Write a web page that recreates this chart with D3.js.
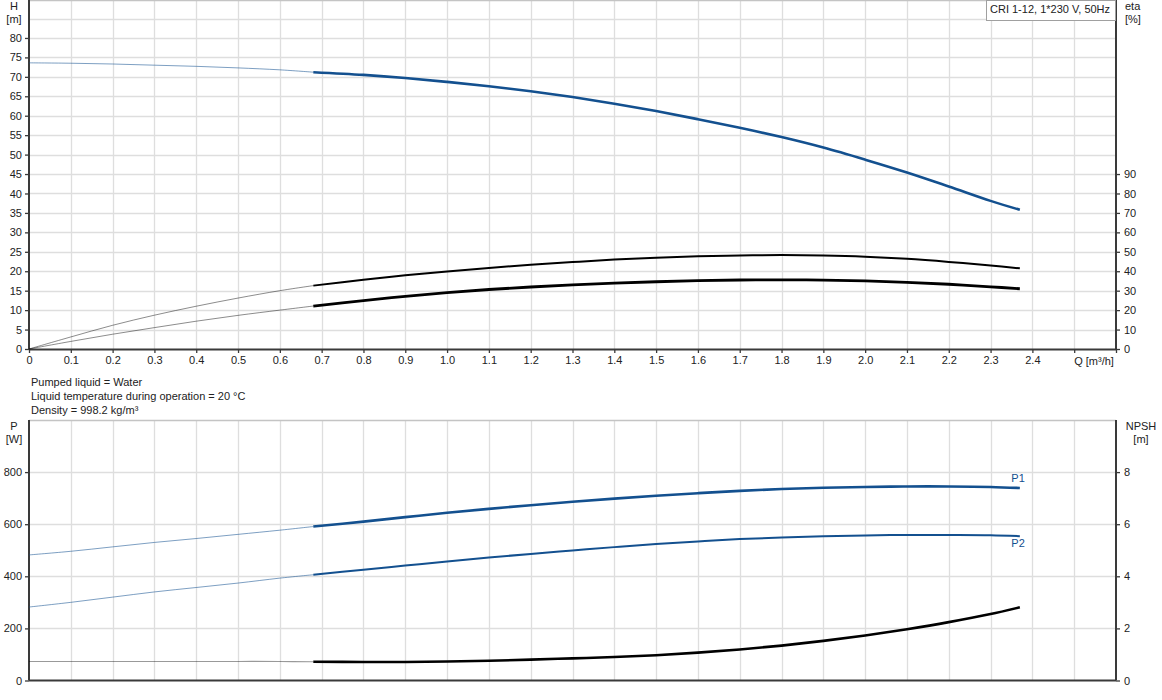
<!DOCTYPE html>
<html>
<head>
<meta charset="utf-8">
<script src="https://cdn.jsdelivr.net/npm/d3@7"></script>
<style>
  body { margin: 0; background: #fff; }
  text { font-family: "Liberation Sans", Arial, sans-serif; font-size: 11px; fill: #222; }
</style>
</head>
<body>
<svg id="chart" width="1162" height="700"></svg>
<script>
// flow points, thin (extrapolated) part and thick (operating) part
var qThin = [0, 0.1, 0.2, 0.3, 0.4, 0.5, 0.6, 0.68];
var qThick = [0.68, 0.8, 0.9, 1.0, 1.1, 1.2, 1.3, 1.4, 1.5, 1.6, 1.7, 1.8, 1.9, 2.0, 2.1, 2.2, 2.3, 2.37];

// head H [m]
var headThin = [73.6, 73.5, 73.3, 73.0, 72.7, 72.3, 71.8, 71.2];
var headThick = [71.2, 70.5, 69.7, 68.7, 67.6, 66.3, 64.8, 63.1, 61.2, 59.1, 56.9, 54.5, 51.8, 48.7, 45.4, 41.8, 38.1, 35.8];

// efficiencies eta [%]
var etaUpperThin = [0, 6.2, 12.2, 17.4, 22.0, 26.2, 30.0, 32.6];
var etaUpperThick = [32.6, 35.6, 37.9, 39.9, 41.7, 43.3, 44.7, 46.0, 47.0, 47.7, 48.1, 48.3, 48.1, 47.5, 46.4, 44.8, 42.9, 41.5];
var etaLowerThin = [0, 3.9, 7.6, 11.0, 14.3, 17.3, 20.0, 22.1];
var etaLowerThick = [22.1, 24.9, 27.1, 29.0, 30.6, 31.9, 33.0, 33.9, 34.6, 35.2, 35.5, 35.6, 35.4, 35.0, 34.3, 33.3, 32.0, 31.0];

// power P1 / P2 [W]
var p1Thin = [482, 496, 513, 530, 545, 561, 577, 591];
var p1Thick = [591, 610, 627, 644, 659, 673, 686, 698, 709, 719, 728, 735, 740, 743, 745, 745, 743, 739];
var p2Thin = [282, 300, 320, 340, 357, 374, 393, 406];
var p2Thick = [406, 425, 441, 457, 472, 486, 499, 512, 524, 534, 543, 549, 554, 557, 559, 559, 558, 554];

// NPSH [m]
var npshThin = [0.73, 0.73, 0.73, 0.73, 0.73, 0.73, 0.73, 0.72];
var npshThick = [0.72, 0.71, 0.71, 0.73, 0.76, 0.80, 0.85, 0.90, 0.97, 1.07, 1.19, 1.34, 1.52, 1.73, 1.97, 2.24, 2.55, 2.81];

// ticks
var qTicks = d3.range(0, 2.61, 0.1).map(function(d) { return Math.round(d * 10) / 10; });
var headTicks = d3.range(0, 81, 5);
var headGrid = d3.range(5, 86, 5);
var etaTicks = d3.range(0, 91, 10);
var powerTicks = [0, 200, 400, 600, 800];
var npshTicks = [0, 2, 4, 6, 8];
var infoLines = ["Pumped liquid = Water", "Liquid temperature during operation = 20 \u00b0C", "Density = 998.2 kg/m\u00b3"];

var blue = "#13508f",
    gridColor = "#dedede",
    axisColor = "#3a3a3a";

var svg = d3.select("#chart");

var left = 29, right = 1116;
var top1 = 0, bottom1 = 349;
var top2 = 420, bottom2 = 680.5;

var x = d3.scaleLinear().domain([0, 2.6]).range([left, right]);
var yH = d3.scaleLinear().domain([0, 90]).range([bottom1, bottom1 - 90 * 3.888]);
var yEta = d3.scaleLinear().domain([0, 180]).range([bottom1, bottom1 - 90 * 3.888]);
var yP = d3.scaleLinear().domain([0, 1000]).range([bottom2, top2]);
var yN = d3.scaleLinear().domain([0, 10]).range([bottom2, top2]);

function pairs(qs, vs) {
  return qs.map(function(q, i) { return [q, vs[i]]; });
}

// ---------- grids ----------
function drawGrid(yScale, gridVals, top, bottom) {
  var g = svg.append("g");
  g.selectAll(".vgrid")
      .data(qTicks.slice(1, -1))
      .enter().append("line")
      .attr("x1", function(d) { return Math.round(x(d)) + 0.5; })
      .attr("x2", function(d) { return Math.round(x(d)) + 0.5; })
      .attr("y1", top)
      .attr("y2", bottom)
      .attr("stroke", gridColor)
      .attr("stroke-width", 1.3);
  g.selectAll(".hgrid")
      .data(gridVals)
      .enter().append("line")
      .attr("x1", left)
      .attr("x2", right)
      .attr("y1", function(d) { return Math.round(yScale(d)) + 0.5; })
      .attr("y2", function(d) { return Math.round(yScale(d)) + 0.5; })
      .attr("stroke", gridColor)
      .attr("stroke-width", 1.3);
  g.append("line")
      .attr("x1", left).attr("x2", right)
      .attr("y1", top + 0.5).attr("y2", top + 0.5)
      .attr("stroke", "#c4c4c4")
      .attr("stroke-width", 1.5);
}

drawGrid(yH, headGrid, top1, bottom1);
drawGrid(yP, powerTicks.slice(1), top2, bottom2);

// ---------- axes ----------
function styleAxis(sel) {
  sel.select(".domain").attr("stroke", axisColor).attr("stroke-width", 2);
  sel.selectAll(".tick line").attr("stroke", axisColor).attr("stroke-width", 1.3);
  sel.selectAll(".tick text")
      .attr("fill", "#222")
      .style("font-family", "'Liberation Sans', Arial, sans-serif")
      .style("font-size", "11px");
}

svg.append("g")
    .attr("transform", "translate(" + left + ",0)")
    .call(d3.axisLeft(yH).tickValues(headTicks).tickSize(4).tickSizeOuter(0).tickPadding(3))
    .call(styleAxis)
    .select(".domain").attr("d", "M0," + bottom1 + "V" + top1);

svg.append("g")
    .attr("transform", "translate(" + right + ",0)")
    .call(d3.axisRight(yEta).tickValues(etaTicks).tickSize(4).tickSizeOuter(0).tickPadding(4))
    .call(styleAxis)
    .select(".domain").attr("d", "M0," + bottom1 + "V" + top1);

svg.append("g")
    .attr("transform", "translate(0," + bottom1 + ")")
    .call(d3.axisBottom(x).tickValues(qTicks).tickSize(4).tickSizeOuter(0).tickPadding(3)
      .tickFormat(function(d) {
        if (d === 0) return "0";
        if (d > 2.45) return "";
        return d3.format(".1f")(d);
      }))
    .call(styleAxis);

svg.append("text")
    .attr("x", x(2.5))
    .attr("y", bottom1 + 16)
    .text("Q [m\u00b3/h]");

svg.append("g")
    .attr("transform", "translate(" + left + ",0)")
    .call(d3.axisLeft(yP).tickValues(powerTicks).tickSize(4).tickSizeOuter(0).tickPadding(3))
    .call(styleAxis)
    .select(".domain").attr("d", "M0," + bottom2 + "V" + top2);

svg.append("g")
    .attr("transform", "translate(" + right + ",0)")
    .call(d3.axisRight(yN).tickValues(npshTicks).tickSize(4).tickSizeOuter(0).tickPadding(4))
    .call(styleAxis)
    .select(".domain").attr("d", "M0," + bottom2 + "V" + top2);

svg.append("line")
    .attr("x1", left).attr("x2", right)
    .attr("y1", bottom2).attr("y2", bottom2)
    .attr("stroke", axisColor)
    .attr("stroke-width", 2);

// ---------- axis titles ----------
function label(xp, yp, txt, anchor) {
  svg.append("text")
      .attr("x", xp).attr("y", yp)
      .attr("text-anchor", anchor || "middle")
      .text(txt);
}
label(14, 10, "H");
label(14, 23, "[m]");
label(1125, 10, "eta", "start");
label(1125, 23, "[%]", "start");
label(14, 430, "P");
label(14, 443, "[W]");
label(1141, 430, "NPSH");
label(1141, 443, "[m]");

svg.selectAll(".info")
    .data(infoLines)
    .enter().append("text")
    .attr("x", 31)
    .attr("y", function(d, i) { return 386 + i * 14; })
    .text(function(d) { return d; });

// legend box
svg.append("rect")
    .attr("x", 986.5).attr("y", 0.5)
    .attr("width", right - 987).attr("height", 20)
    .attr("fill", "#fff")
    .attr("stroke", "#a0a0a0");
svg.append("text")
    .attr("x", 990).attr("y", 13)
    .text("CRI 1-12, 1*230 V, 50Hz");

// ---------- curves ----------
function drawCurve(yScale, qs, vs, color, width, opacity) {
  var line = d3.line()
      .x(function(d) { return x(d[0]); })
      .y(function(d) { return yScale(d[1]); })
      .curve(d3.curveCatmullRom.alpha(0.5));
  svg.append("path")
      .datum(pairs(qs, vs))
      .attr("d", line)
      .attr("fill", "none")
      .attr("stroke", color)
      .attr("stroke-width", width)
      .attr("stroke-opacity", opacity)
      .attr("stroke-linecap", "butt");
}

drawCurve(yH, qThin, headThin, blue, 1, 0.55);
drawCurve(yH, qThick, headThick, blue, 2.6, 1);

drawCurve(yEta, qThin, etaUpperThin, "#000", 1, 0.45);
drawCurve(yEta, qThick, etaUpperThick, "#000", 2, 1);
drawCurve(yEta, qThin, etaLowerThin, "#000", 1, 0.45);
drawCurve(yEta, qThick, etaLowerThick, "#000", 2.8, 1);

drawCurve(yP, qThin, p1Thin, blue, 1, 0.55);
drawCurve(yP, qThick, p1Thick, blue, 2.6, 1);
drawCurve(yP, qThin, p2Thin, blue, 1, 0.55);
drawCurve(yP, qThick, p2Thick, blue, 2, 1);

drawCurve(yN, qThin, npshThin, "#000", 1.2, 0.4);
drawCurve(yN, qThick, npshThick, "#000", 2.6, 1);

// curve labels
svg.append("text")
    .attr("x", x(2.37) + 5).attr("y", yP(p1Thick[p1Thick.length - 1]) - 6)
    .attr("text-anchor", "end")
    .style("fill", blue)
    .text("P1");
svg.append("text")
    .attr("x", x(2.37) + 5).attr("y", yP(p2Thick[p2Thick.length - 1]) + 11)
    .attr("text-anchor", "end")
    .style("fill", blue)
    .text("P2");
</script>
</body>
</html>
